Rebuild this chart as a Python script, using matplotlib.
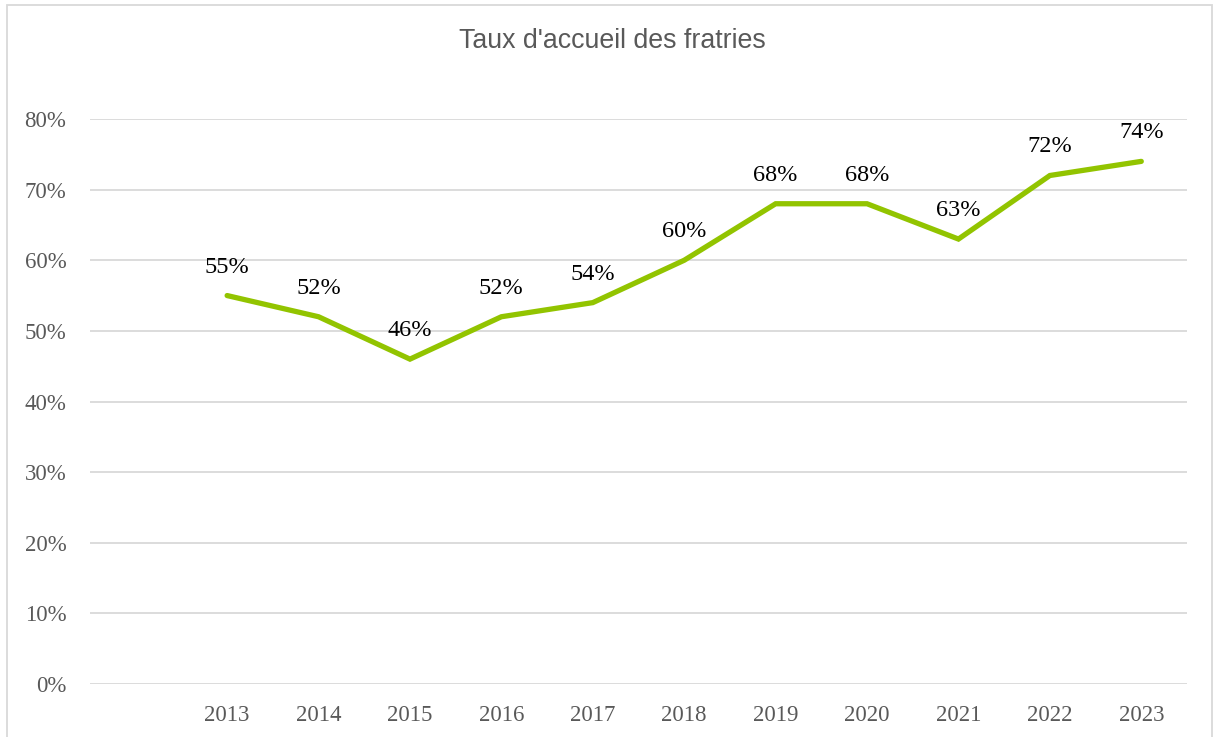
import matplotlib.pyplot as plt
from matplotlib.patches import Rectangle

# Data (first category left blank, as in the source chart)
years = ["", "2013", "2014", "2015", "2016", "2017", "2018", "2019", "2020", "2021", "2022", "2023"]
rates = [None, 55, 52, 46, 52, 54, 60, 68, 68, 63, 72, 74]

fig = plt.figure(figsize=(12.16, 7.37), dpi=100)
ax = fig.add_axes([90 / 1216, 1 - 684 / 737, (1187 - 90) / 1216, (684 - 119) / 737])

xs = [i for i, v in enumerate(rates) if v is not None]
ys = [v for v in rates if v is not None]
ax.plot(xs, ys, color="#92C400", linewidth=3.8, solid_joinstyle="miter", solid_capstyle="round", zorder=3)

for x, y in zip(xs, ys):
    ax.annotate(f"{y}%", (x, y), xytext=(0, 13), textcoords="offset points",
                ha="center", va="bottom", fontsize=17.5, family="Liberation Serif", color="black")

ax.set_xlim(-0.5, len(years) - 0.5)
ax.set_ylim(0, 80)
ax.set_yticks(range(0, 81, 10))
ax.set_yticklabels([f"{v}%" for v in range(0, 81, 10)])
ax.set_xticks(range(len(years)))
ax.set_xticklabels(years)
ax.grid(axis="y", color="#D9D9D9", linewidth=1.3)
ax.set_axisbelow(True)
for s in ax.spines.values():
    s.set_visible(False)
ax.tick_params(length=0, labelsize=16.5, labelcolor="#595959")
ax.tick_params(axis="x", pad=15)
ax.tick_params(axis="y", pad=17)
for lab in ax.get_xticklabels() + ax.get_yticklabels():
    lab.set_family("Liberation Serif")

fig.text(612 / 1216, 1 - 41 / 737, "Taux d'accueil des fratries", ha="center", va="center",
         fontsize=19.3, family="Liberation Sans", color="#595959")

# outer chart border
fig.patches.append(Rectangle((7 / 1216, -0.01), (1212 - 7) / 1216, 1 - 5 / 737 + 0.01,
                             transform=fig.transFigure, fill=False, edgecolor="#D9D9D9", linewidth=1.3))

fig.savefig("out.png", dpi=100)
